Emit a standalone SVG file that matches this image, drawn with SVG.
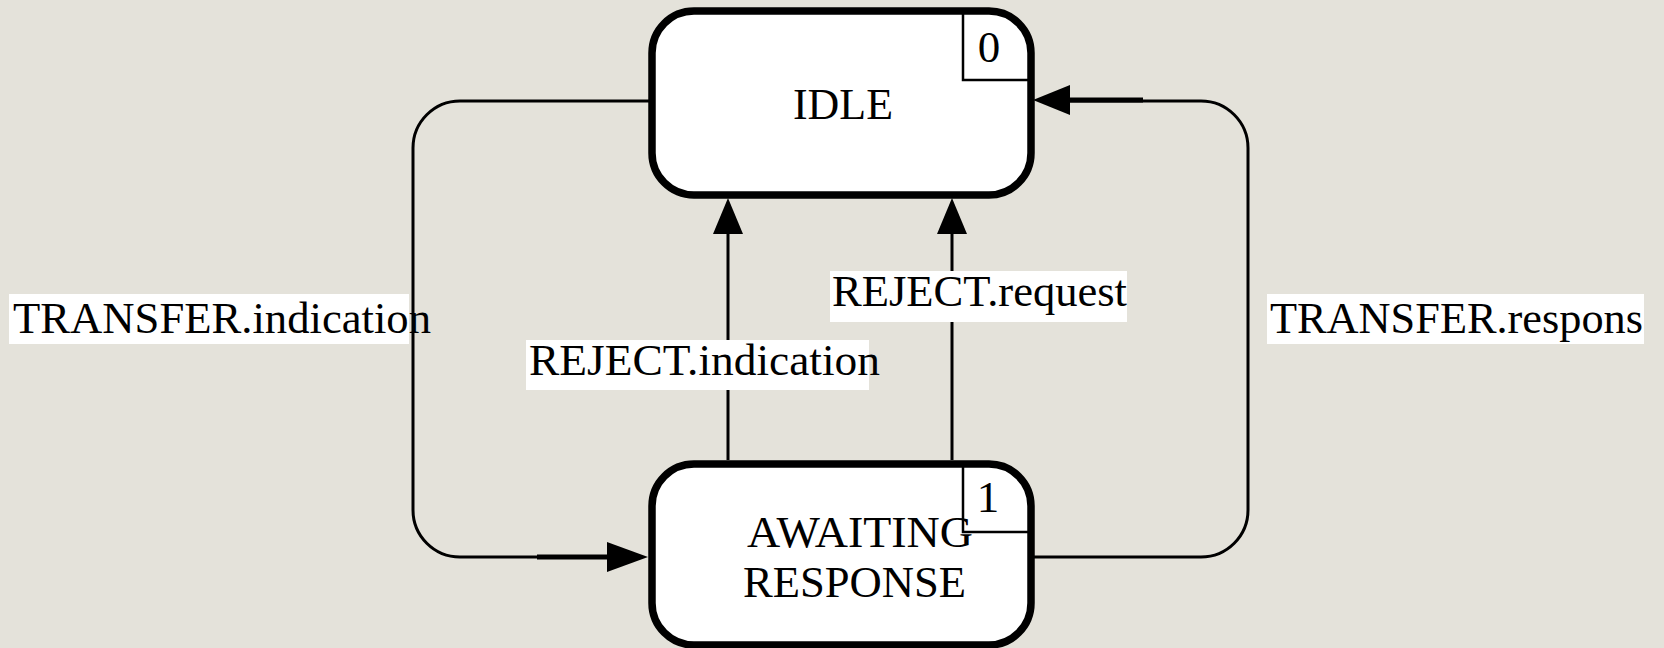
<svg xmlns="http://www.w3.org/2000/svg" width="1664" height="648" viewBox="0 0 1664 648">
<style>
.bg{fill:#e4e2da}
.conn{fill:none;stroke:#000;stroke-width:3}
.thick{fill:none;stroke:#000;stroke-width:5}
.head{fill:#000;stroke:none}
.state{fill:#fff;stroke:#000;stroke-width:7.5}
.idx{fill:none;stroke:#000;stroke-width:2.5}
.lblbg{fill:#fff}
text{font-family:"Liberation Serif","Times New Roman",serif;font-size:45px;fill:#000}
</style>
<rect class="bg" x="0" y="0" width="1664" height="648"/>
<g id="connectors">
  <path class="conn" d="M 652 101 H 460 A 47 47 0 0 0 413 148 V 510 A 47 47 0 0 0 460 557 H 610"/>
  <path class="thick" d="M 537 557 H 610"/>
  <polygon class="head" points="648,557 607,542 607,572"/>
  <path class="conn" d="M 1031 557 H 1201 A 47 47 0 0 0 1248 510 V 148 A 47 47 0 0 0 1201 101 H 1068"/>
  <path class="thick" d="M 1068 100 H 1143"/>
  <polygon class="head" points="1033,100 1070,85 1070,115"/>
  <path class="conn" d="M 728 460 V 230"/>
  <polygon class="head" points="728,198 713,234 743,234"/>
  <path class="conn" d="M 952 460 V 230"/>
  <polygon class="head" points="952,198 937,234 967,234"/>
</g>
<g id="labels">
  <g id="lbl-transfer-indication">
    <rect class="lblbg" x="9" y="294" width="400" height="50"/>
    <text x="13" y="333" textLength="418" lengthAdjust="spacingAndGlyphs">TRANSFER.indication</text>
  </g>
  <g id="lbl-transfer-respons">
    <rect class="lblbg" x="1267" y="294" width="377" height="50"/>
    <text x="1270" y="333" textLength="373" lengthAdjust="spacingAndGlyphs">TRANSFER.respons</text>
  </g>
  <g id="lbl-reject-indication">
    <rect class="lblbg" x="526" y="340" width="343" height="50"/>
    <text x="529" y="375" textLength="351" lengthAdjust="spacingAndGlyphs">REJECT.indication</text>
  </g>
  <g id="lbl-reject-request">
    <rect class="lblbg" x="830" y="271" width="297" height="51"/>
    <text x="832" y="306" textLength="295" lengthAdjust="spacingAndGlyphs">REJECT.request</text>
  </g>
</g>
<g id="node-idle">
  <rect class="state" x="652" y="11" width="379" height="184" rx="42" ry="42"/>
  <path class="idx" d="M 963 11 V 80 H 1031"/>
  <text x="989" y="62" text-anchor="middle">0</text>
  <text x="793" y="119" textLength="100" lengthAdjust="spacingAndGlyphs">IDLE</text>
</g>
<g id="node-awaiting">
  <rect class="state" x="652" y="464" width="379" height="181" rx="42" ry="42"/>
  <path class="idx" d="M 963 464 V 532 H 1031"/>
  <text x="988" y="512" text-anchor="middle">1</text>
  <text x="747" y="547" textLength="226" lengthAdjust="spacingAndGlyphs">AWAITING</text>
  <text x="743" y="597" textLength="223" lengthAdjust="spacingAndGlyphs">RESPONSE</text>
</g>
</svg>
